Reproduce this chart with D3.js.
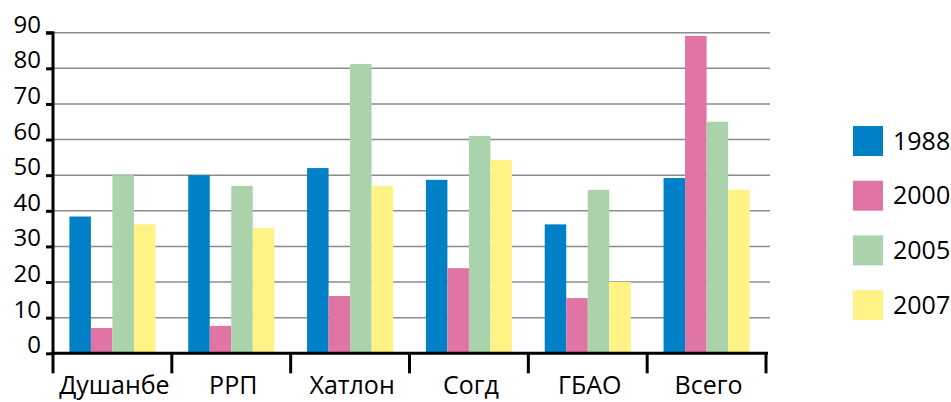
<!DOCTYPE html>
<html><head><meta charset="utf-8">
<script src="https://cdn.jsdelivr.net/npm/d3@7"></script>
<style>
html,body{margin:0;padding:0;background:#fff;}
svg{display:block;font-family:"Open Sans",sans-serif;}
</style></head>
<body>
<svg id="c" width="951" height="402"></svg>
<script>
const categories = ["Душанбе", "РРП", "Хатлон", "Согд", "ГБАО", "Всего"];
const seriesNames = ["1988", "2000", "2005", "2007"];
const s1988 = [38.4, 50, 52, 48.7, 36.2, 49.2];
const s2000 = [7.1, 7.7, 16.1, 23.9, 15.5, 89.1];
const s2005 = [50, 47, 81.2, 61, 45.9, 65];
const s2007 = [36.2, 35.2, 47, 54.3, 20, 45.9];
const colors = ["#0080c6", "#e074a5", "#abd3ab", "#fff385"];
const yTicks = [0, 10, 20, 30, 40, 50, 60, 70, 80, 90];

const series = [s1988, s2000, s2005, s2007];
const svg = d3.select("#c");
const x0 = 53, x1 = 766, yBottom = 353.3, yTop = 32.7;

const x = d3.scaleBand().domain(categories).range([x0, x1]).paddingInner(0).paddingOuter(0);
const bw = x.bandwidth();
const xs = d3.scaleBand().domain(seriesNames).range([bw * 0.138, bw * 0.862]).padding(0);
const y = d3.scaleLinear().domain([0, 90]).range([yBottom, yTop]);

// gridlines
svg.append("g").selectAll("line").data(yTicks.filter(d => d > 0)).join("line")
  .attr("x1", x0).attr("x2", 770).attr("y1", d => y(d)).attr("y2", d => y(d))
  .attr("stroke", "#8c8c8c").attr("stroke-width", 1.6);

// bars
const g = svg.append("g");
categories.forEach((c, i) => {
  seriesNames.forEach((s, j) => {
    g.append("rect")
      .attr("x", x(c) + xs(s))
      .attr("width", xs.bandwidth())
      .attr("y", y(series[j][i]))
      .attr("height", y(0) - y(series[j][i]))
      .attr("fill", colors[j]);
  });
});

// y axis
const yAxis = d3.axisLeft(y).tickValues(yTicks).tickSize(7).tickPadding(5);
const ya = svg.append("g").attr("transform", `translate(${x0},0)`).call(yAxis);
ya.select(".domain").attr("stroke", "#000").attr("stroke-width", 3).attr("d", `M-7,${yTop}H0V${yBottom}`);
ya.selectAll(".tick line").attr("stroke", "#000").attr("stroke-width", 3);
ya.selectAll(".tick text").attr("font-size", 24).attr("fill", "#000").attr("dy", "-0.02em")
  .style("font-family", '"Open Sans",sans-serif');

// x axis
const xa = svg.append("g").attr("transform", `translate(0,${yBottom})`);
xa.append("line").attr("x1", x0 - 1.5).attr("x2", 768).attr("y1", 0).attr("y2", 0)
  .attr("stroke", "#000").attr("stroke-width", 3);
const bounds = categories.map(c => x(c)).concat([x1]);
xa.selectAll("line.t").data(bounds).join("line").attr("class", "t")
  .attr("x1", d => d).attr("x2", d => d).attr("y1", 0).attr("y2", 20)
  .attr("stroke", "#000").attr("stroke-width", 3);
xa.selectAll("text").data(categories).join("text")
  .attr("x", d => x(d) + bw / 2 + 2).attr("y", 41)
  .attr("text-anchor", "middle").attr("font-size", 25).attr("fill", "#000").text(d => d);

// legend
const lg = svg.append("g").attr("transform", "translate(853,126)");
seriesNames.forEach((s, j) => {
  const r = lg.append("g").attr("transform", `translate(0,${j * 54.7})`);
  r.append("rect").attr("width", 30).attr("height", 30).attr("fill", colors[j]);
  r.append("text").attr("x", 40).attr("y", 15).attr("dy", "0.35em")
    .attr("font-size", 25).attr("fill", "#000").text(s);
});
</script>
</body></html>
